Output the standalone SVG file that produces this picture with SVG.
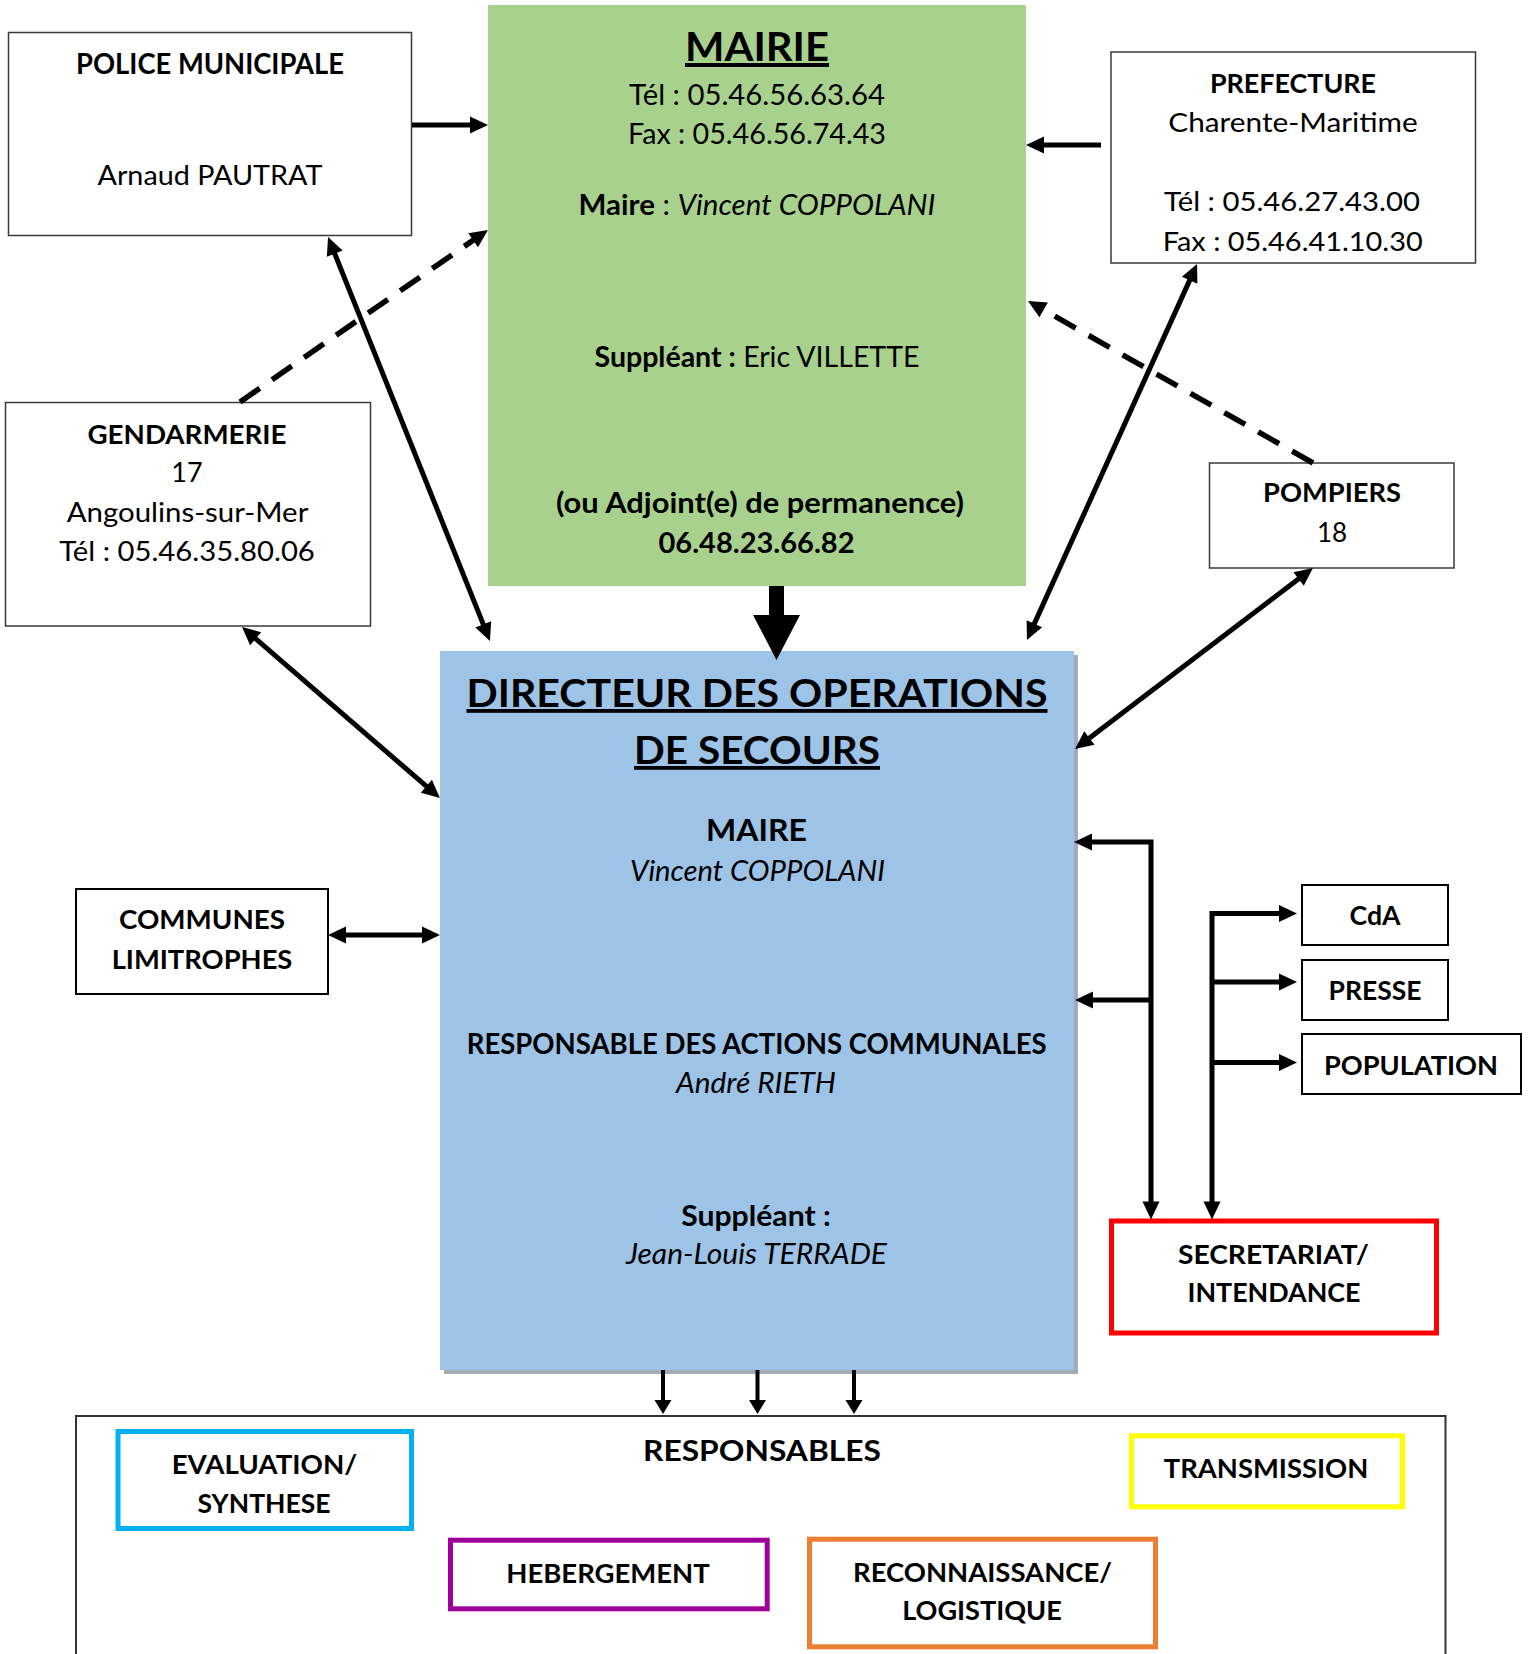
<svg xmlns="http://www.w3.org/2000/svg" width="1529" height="1654" viewBox="0 0 1529 1654">
<defs>
<style>
.t{font-family:Lato,"Noto Sans","Liberation Sans",sans-serif;fill:#000;text-anchor:middle}
.b{font-weight:700}
.i{font-style:italic}
.u{text-decoration:underline}
.box{fill:#fff;stroke:#3a3a3a;stroke-width:1.5}
.box2{fill:#fff;stroke:#000;stroke-width:2}
.cbox{fill:#fff;stroke-width:5}
.con{fill:none;stroke:#000;stroke-width:5}
.dash{fill:none;stroke:#000;stroke-width:5.5;stroke-dasharray:24 15}
.thin{fill:none;stroke:#000;stroke-width:4}
</style>
<marker id="ah" markerUnits="userSpaceOnUse" markerWidth="18" markerHeight="17" refX="6" refY="8.5" orient="auto-start-reverse" overflow="visible">
<path d="M0,0 L18,8.5 L0,17 z" fill="#000"/>
</marker>
<marker id="ahs" markerUnits="userSpaceOnUse" markerWidth="14" markerHeight="17" refX="4" refY="8.5" orient="auto-start-reverse" overflow="visible">
<path d="M0,0 L14,8.5 L0,17 z" fill="#000"/>
</marker>
</defs>
<rect width="1529" height="1654" fill="#fff"/>

<g id="police">
<rect class="box" x="8.5" y="32.5" width="403" height="203"/>
<text class="t b" x="210" y="74" font-size="29" textLength="268" lengthAdjust="spacingAndGlyphs">POLICE MUNICIPALE</text>
<text class="t" x="210" y="185" font-size="27" textLength="225" lengthAdjust="spacingAndGlyphs">Arnaud PAUTRAT</text>
</g>

<g id="mairie">
<rect x="488" y="5" width="538" height="581" fill="#A9D18E"/>
<text class="t b u" x="757" y="61" font-size="40" textLength="144" lengthAdjust="spacingAndGlyphs">MAIRIE</text>
<text class="t" x="757" y="105" font-size="29" textLength="256" lengthAdjust="spacingAndGlyphs">Tél : 05.46.56.63.64</text>
<text class="t" x="757" y="143.5" font-size="29" textLength="258" lengthAdjust="spacingAndGlyphs">Fax : 05.46.56.74.43</text>
<text class="t" x="757" y="215" font-size="29" textLength="357" lengthAdjust="spacingAndGlyphs"><tspan class="b">Maire</tspan> : <tspan class="i">Vincent COPPOLANI</tspan></text>
<text class="t" x="757" y="367" font-size="29" textLength="325" lengthAdjust="spacingAndGlyphs"><tspan class="b">Suppléant :</tspan> Eric VILLETTE</text>
<text class="t b" x="760" y="513" font-size="29" textLength="408" lengthAdjust="spacingAndGlyphs">(ou Adjoint(e) de permanence)</text>
<text class="t b" x="756.5" y="553" font-size="29" textLength="196" lengthAdjust="spacingAndGlyphs">06.48.23.66.82</text>
</g>

<g id="prefecture">
<rect class="box" x="1111" y="52" width="364.5" height="211"/>
<text class="t b" x="1293" y="93" font-size="27" textLength="166" lengthAdjust="spacingAndGlyphs">PREFECTURE</text>
<text class="t" x="1293" y="132" font-size="27.5" textLength="249.5" lengthAdjust="spacingAndGlyphs">Charente-Maritime</text>
<text class="t" x="1292" y="211" font-size="27.5" textLength="256" lengthAdjust="spacingAndGlyphs">Tél : 05.46.27.43.00</text>
<text class="t" x="1292.7" y="250.7" font-size="27.5" textLength="260" lengthAdjust="spacingAndGlyphs">Fax : 05.46.41.10.30</text>
</g>

<g id="gendarmerie">
<rect class="box" x="5.5" y="402.5" width="365" height="223.5"/>
<text class="t b" x="187" y="444" font-size="27" textLength="199" lengthAdjust="spacingAndGlyphs">GENDARMERIE</text>
<text class="t" x="187" y="482" font-size="27">17</text>
<text class="t" x="187.5" y="521.6" font-size="27" textLength="241.7" lengthAdjust="spacingAndGlyphs">Angoulins-sur-Mer</text>
<text class="t" x="187" y="560.8" font-size="27" textLength="255.7" lengthAdjust="spacingAndGlyphs">Tél : 05.46.35.80.06</text>
</g>

<g id="pompiers">
<rect class="box" x="1209.5" y="463" width="244.5" height="105"/>
<text class="t b" x="1332" y="502" font-size="26" textLength="138" lengthAdjust="spacingAndGlyphs">POMPIERS</text>
<text class="t" x="1332" y="541.5" font-size="26">18</text>
</g>

<g id="communes">
<rect class="box2" x="76" y="889" width="252" height="105"/>
<text class="t b" x="202" y="929" font-size="26" textLength="166" lengthAdjust="spacingAndGlyphs">COMMUNES</text>
<text class="t b" x="202" y="969" font-size="26" textLength="180.7" lengthAdjust="spacingAndGlyphs">LIMITROPHES</text>
</g>

<g id="dos">
<rect x="444" y="655" width="634" height="719" fill="#A3ABB4"/>
<rect x="440" y="651" width="634" height="719" fill="#9DC3E6"/>
<text class="t b u" x="757" y="707" font-size="38" textLength="581" lengthAdjust="spacingAndGlyphs">DIRECTEUR DES OPERATIONS</text>
<text class="t b u" x="757" y="764" font-size="38" textLength="246" lengthAdjust="spacingAndGlyphs">DE SECOURS</text>
<text class="t b" x="756.5" y="841" font-size="30" textLength="101" lengthAdjust="spacingAndGlyphs">MAIRE</text>
<text class="t i" x="757.5" y="881" font-size="29" textLength="255" lengthAdjust="spacingAndGlyphs">Vincent COPPOLANI</text>
<text class="t b" x="756.7" y="1053.7" font-size="29" textLength="580" lengthAdjust="spacingAndGlyphs">RESPONSABLE DES ACTIONS COMMUNALES</text>
<text class="t i" x="756" y="1092.5" font-size="29" textLength="160" lengthAdjust="spacingAndGlyphs">André RIETH</text>
<text class="t b" x="756" y="1226" font-size="29" textLength="149.6" lengthAdjust="spacingAndGlyphs">Suppléant :</text>
<text class="t i" x="756.5" y="1264" font-size="29" textLength="261" lengthAdjust="spacingAndGlyphs">Jean-Louis TERRADE</text>
</g>

<g id="cda">
<rect class="box2" x="1302" y="885" width="146" height="60"/>
<text class="t b" x="1375" y="925" font-size="26" textLength="51" lengthAdjust="spacingAndGlyphs">CdA</text>
</g>
<g id="presse">
<rect class="box2" x="1302" y="960" width="146" height="60"/>
<text class="t b" x="1375" y="1000" font-size="26" textLength="93" lengthAdjust="spacingAndGlyphs">PRESSE</text>
</g>
<g id="population">
<rect class="box2" x="1302" y="1034" width="219" height="60"/>
<text class="t b" x="1411" y="1075" font-size="26" textLength="174" lengthAdjust="spacingAndGlyphs">POPULATION</text>
</g>

<g id="secretariat">
<rect class="cbox" x="1111.5" y="1221" width="325" height="112" stroke="#FF0000"/>
<text class="t b" x="1273.5" y="1264" font-size="27" textLength="191" lengthAdjust="spacingAndGlyphs">SECRETARIAT/</text>
<text class="t b" x="1274" y="1302" font-size="27" textLength="173" lengthAdjust="spacingAndGlyphs">INTENDANCE</text>
</g>

<g id="responsables">
<rect x="76" y="1416" width="1369.5" height="300" fill="#fff" stroke="#333" stroke-width="2"/>
<text class="t b" x="762" y="1461" font-size="29" textLength="238" lengthAdjust="spacingAndGlyphs">RESPONSABLES</text>
</g>

<g id="evaluation">
<rect class="cbox" x="118" y="1431.5" width="293.5" height="97" stroke="#00B0F0"/>
<text class="t b" x="264.4" y="1474" font-size="27" textLength="185.5" lengthAdjust="spacingAndGlyphs">EVALUATION/</text>
<text class="t b" x="264" y="1513" font-size="27" textLength="133" lengthAdjust="spacingAndGlyphs">SYNTHESE</text>
</g>
<g id="hebergement">
<rect class="cbox" x="450.5" y="1540.2" width="316.7" height="68.6" stroke="#9E0099"/>
<text class="t b" x="608" y="1582.7" font-size="27" textLength="203.5" lengthAdjust="spacingAndGlyphs">HEBERGEMENT</text>
</g>
<g id="transmission">
<rect class="cbox" x="1131.5" y="1435.8" width="271" height="71" stroke="#FFFF00"/>
<text class="t b" x="1266" y="1477.7" font-size="27" textLength="204.5" lengthAdjust="spacingAndGlyphs">TRANSMISSION</text>
</g>
<g id="reconnaissance">
<rect class="cbox" x="809.5" y="1539.2" width="346" height="107.6" stroke="#ED7D31"/>
<text class="t b" x="982.5" y="1581.7" font-size="27" textLength="259" lengthAdjust="spacingAndGlyphs">RECONNAISSANCE/</text>
<text class="t b" x="982" y="1620" font-size="27" textLength="159.6" lengthAdjust="spacingAndGlyphs">LOGISTIQUE</text>
</g>

<g id="connectors">
<path class="con" d="M412,125 L476,125" marker-end="url(#ah)"/>
<path class="con" d="M1101,145 L1038,145" marker-end="url(#ah)"/>
<path class="dash" d="M240,402 L478.1,236.8" marker-end="url(#ah)"/>
<path class="dash" d="M1313,463 L1038.4,306.9" marker-end="url(#ah)"/>
<path class="con" d="M332.5,248.1 L485.5,629.9" marker-start="url(#ah)" marker-end="url(#ah)"/>
<path class="con" d="M251.1,634.8 L430.9,790.2" marker-start="url(#ah)" marker-end="url(#ah)"/>
<path class="con" d="M1192.1,274.9 L1031.9,629.1" marker-start="url(#ah)" marker-end="url(#ah)"/>
<path class="con" d="M1303.4,575.3 L1084.6,741.7" marker-start="url(#ah)" marker-end="url(#ah)"/>
<path class="con" d="M340,935 L428,935" marker-start="url(#ah)" marker-end="url(#ah)"/>
<path d="M769,586 L784,586 L784,615 L800,615 L776.5,660 L753,615 L769,615 z" fill="#000"/>
<path class="con" d="M1086,842 L1151,842 L1151,1207.6" marker-start="url(#ah)" marker-end="url(#ah)"/>
<path class="con" d="M1151,1000 L1087,1000" marker-end="url(#ah)"/>
<path class="con" d="M1285,913.6 L1212,913.6 L1212,1207.6" marker-start="url(#ah)" marker-end="url(#ah)"/>
<path class="con" d="M1212,982 L1285,982" marker-end="url(#ah)"/>
<path class="con" d="M1212,1062.5 L1285,1062.5" marker-end="url(#ah)"/>
<path class="thin" d="M663,1370 L663,1404" marker-end="url(#ahs)"/>
<path class="thin" d="M757.5,1370 L757.5,1404" marker-end="url(#ahs)"/>
<path class="thin" d="M854,1370 L854,1404" marker-end="url(#ahs)"/>
</g>
</svg>
